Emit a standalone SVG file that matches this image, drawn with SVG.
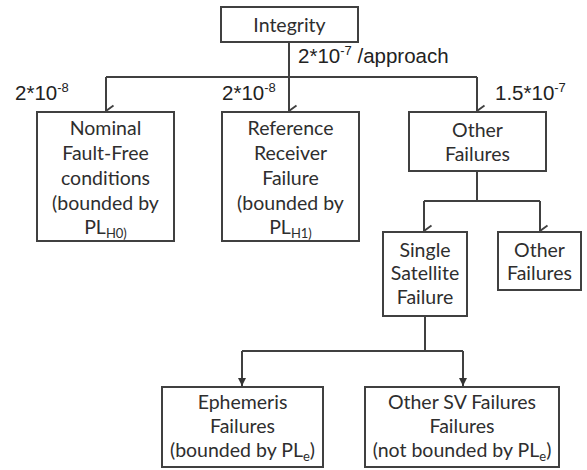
<svg xmlns="http://www.w3.org/2000/svg" width="587" height="470" viewBox="0 0 587 470">
<defs>
<style>
.box{fill:#fff;stroke:#404040;stroke-width:2}
.t{font-family:Lato,"Open Sans",sans-serif;font-size:19.5px;fill:#2e2e2e;text-anchor:middle}
.lab{font-family:"Liberation Sans",Arial,sans-serif;font-size:20.5px;fill:#222}
.c{fill:none;stroke:#404040;stroke-width:2}
.sub{font-size:13px}
.sup{font-size:13px}
</style>
<marker id="open" markerUnits="userSpaceOnUse" markerWidth="14" markerHeight="10" refX="7" refY="9" orient="auto-start-reverse" viewBox="0 0 14 10">
<path d="M1.5,1.5 L7,9 L12.5,1.5" fill="none" stroke="#404040" stroke-width="1.8"/>
</marker>
<marker id="fill" markerUnits="userSpaceOnUse" markerWidth="10" markerHeight="8" refX="5" refY="8" viewBox="0 0 10 8">
<path d="M1,0 L9,0 L5,8 Z" fill="#333"/>
</marker>
</defs>
<g id="connectors">
<path class="c" d="M289,42 V111" marker-end="url(#open)"/>
<path class="c" d="M106,77 H477"/>
<path class="c" d="M106,77 V111" marker-end="url(#open)"/>
<path class="c" d="M477,77 V111" marker-end="url(#open)"/>
<path class="c" d="M477,171 V201 M424,201 H540"/>
<path class="c" d="M424,201 V231" marker-end="url(#open)"/>
<path class="c" d="M540,201 V231" marker-end="url(#open)"/>
<path class="c" d="M425,316 V351 M242,351 H463"/>
<path class="c" d="M242,351 V386" marker-end="url(#fill)"/>
<path class="c" d="M463,351 V386" marker-end="url(#fill)"/>
</g>
<g id="labels">
<text class="lab" x="298" y="63">2*10<tspan class="sup" dy="-8">-7</tspan><tspan dy="8"> /approach</tspan></text>
<text class="lab" x="15" y="100">2*10<tspan class="sup" dy="-8">-8</tspan></text>
<text class="lab" x="222" y="100">2*10<tspan class="sup" dy="-8">-8</tspan></text>
<text class="lab" x="495" y="100">1.5*10<tspan class="sup" dy="-8">-7</tspan></text>
</g>
<g id="integrity">
<rect class="box" x="221" y="7" width="137" height="35"/>
<text class="t" x="289.5" y="32">Integrity</text>
</g>
<g id="nominal">
<rect class="box" x="37" y="112" width="137" height="129"/>
<text class="t" x="105.5" y="135">Nominal</text>
<text class="t" x="105.5" y="160">Fault-Free</text>
<text class="t" x="105.5" y="185">conditions</text>
<text class="t" x="105.5" y="210">(bounded by</text>
<text class="t" x="105.5" y="234">PL<tspan class="sub" dy="4">H0)</tspan></text>
</g>
<g id="reference">
<rect class="box" x="222" y="112" width="137" height="129"/>
<text class="t" x="290.5" y="135">Reference</text>
<text class="t" x="290.5" y="160">Receiver</text>
<text class="t" x="290.5" y="185">Failure</text>
<text class="t" x="290.5" y="210">(bounded by</text>
<text class="t" x="290.5" y="234">PL<tspan class="sub" dy="4">H1)</tspan></text>
</g>
<g id="other-failures">
<rect class="box" x="409" y="112" width="137" height="59"/>
<text class="t" x="477.5" y="137">Other</text>
<text class="t" x="477.5" y="161">Failures</text>
</g>
<g id="single-satellite">
<rect class="box" x="383" y="232" width="84" height="84"/>
<text class="t" x="425" y="257">Single</text>
<text class="t" x="425" y="280">Satellite</text>
<text class="t" x="425" y="304">Failure</text>
</g>
<g id="other-failures-2">
<rect class="box" x="498" y="232" width="83" height="58"/>
<text class="t" x="539.5" y="257">Other</text>
<text class="t" x="539.5" y="280">Failures</text>
</g>
<g id="ephemeris">
<rect class="box" x="162" y="387" width="161" height="80"/>
<text class="t" x="242.5" y="409">Ephemeris</text>
<text class="t" x="242.5" y="433">Failures</text>
<text class="t" x="242.5" y="457">(bounded by PL<tspan class="sub" dy="4">e</tspan><tspan dy="-4">)</tspan></text>
</g>
<g id="other-sv">
<rect class="box" x="365" y="387" width="194" height="80"/>
<text class="t" x="462" y="409">Other SV Failures</text>
<text class="t" x="462" y="433">Failures</text>
<text class="t" x="462" y="457">(not bounded by PL<tspan class="sub" dy="4">e</tspan><tspan dy="-4">)</tspan></text>
</g>
</svg>
